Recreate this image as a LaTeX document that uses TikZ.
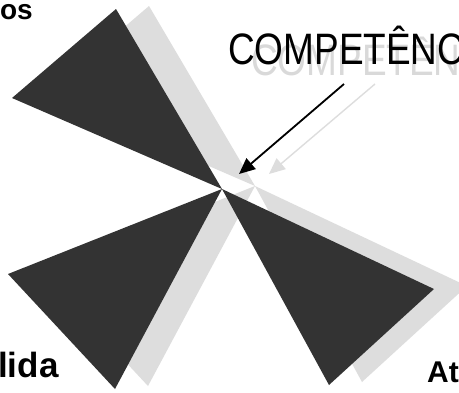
\documentclass[tikz,border=0pt]{standalone}
\usepackage{fontspec}
\setmainfont{Liberation Sans}
\newfontfamily\narrowfont[FakeStretch=0.84]{Liberation Sans}
\usetikzlibrary{arrows.meta}
\definecolor{darkfill}{HTML}{333333}
\definecolor{shadowfill}{HTML}{DDDDDD}
\definecolor{shadowtext}{HTML}{D9D9D9}
\tikzset{
  darktri/.style={fill=darkfill,draw=none},
  shadowtri/.style={fill=shadowfill,draw=none},
  bigword/.style={inner sep=0pt,anchor=base west,font=\narrowfont\fontsize{44}{44}\selectfont},
  sidelabel/.style={inner sep=0pt,font=\bfseries},
  mainarrow/.style={draw=black,line width=1.8pt,-{Triangle[length=16pt,width=14pt]}},
  shadowarrow/.style={draw=shadowfill,line width=1.4pt,-{Triangle[length=16pt,width=14pt]}}
}
\begin{document}
\begin{tikzpicture}[x=1pt,y=-1pt]
\useasboundingbox (0,0) rectangle (459,392);
\clip (0,0) rectangle (459,392);
\fill[white] (0,0) rectangle (459,392);
% named points
\coordinate (c) at (222,189);
\coordinate (s) at (255,186);
% shadows
\fill[shadowtri] (s) -- (149,6) -- (45,95) -- cycle;
\fill[shadowtri] (s) -- (41,271) -- (148,386) -- cycle;
\fill[shadowtri] (s) -- (467,286) -- (362,382) -- cycle;
% dark triangles
\fill[darktri] (c) -- (116,9) -- (12,98) -- cycle;
\fill[darktri] (c) -- (8,274) -- (115,389) -- cycle;
\fill[darktri] (c) -- (434,289) -- (329,385) -- cycle;
% words
\node[bigword,text=shadowtext] (wshadow) at (251,75) {COMPETÊNC};
\node[bigword,text=black] (wmain) at (228,64) {COMPETÊNC};
% arrows
\coordinate (ga) at (375,84);
\coordinate (gb) at (269,174);
\coordinate (ba) at (344,84);
\coordinate (bb) at (239,174);
\draw[shadowarrow] (ga) -- (gb);
\draw[mainarrow] (ba) -- (bb);
% side labels
\node[sidelabel,anchor=base east,font=\bfseries\fontsize{28}{28}\selectfont] (los) at (33,19) {os};
\node[sidelabel,anchor=base west,font=\bfseries\fontsize{35}{35}\selectfont] (llida) at (-2,377) {lida};
\node[sidelabel,anchor=base west,font=\bfseries\fontsize{30}{30}\selectfont] (lat) at (427,382) {At};
\end{tikzpicture}
\end{document}
